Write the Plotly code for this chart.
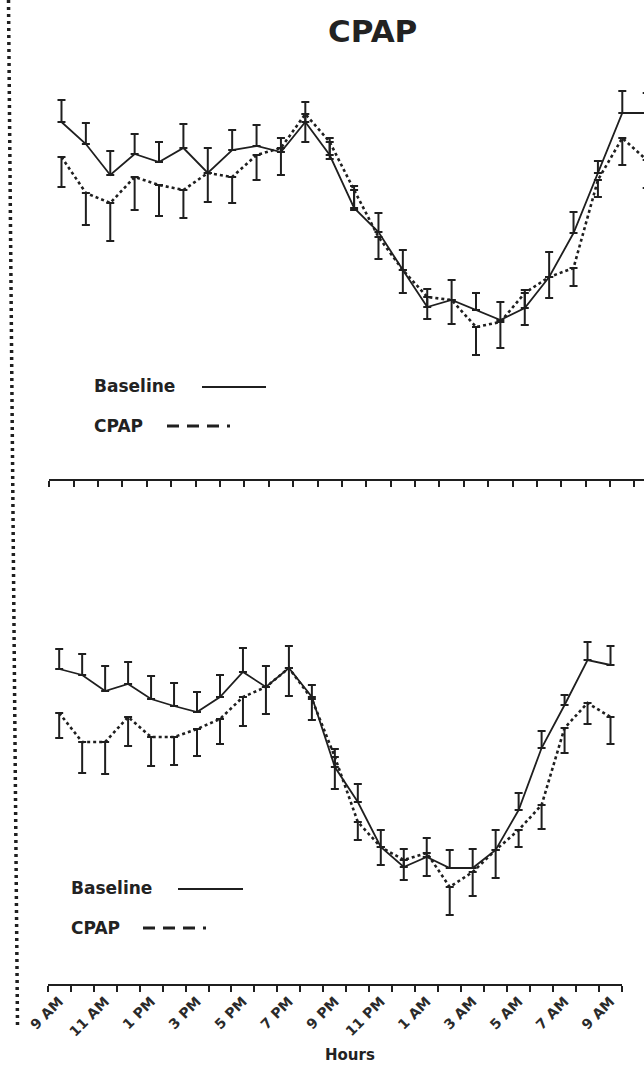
import plotly.graph_objects as go

W, H = 644, 1067

# 25 hourly categories, 9 AM to 9 AM next day
hours = ["9 AM", "10 AM", "11 AM", "12 PM", "1 PM", "2 PM", "3 PM", "4 PM", "5 PM",
         "6 PM", "7 PM", "8 PM", "9 PM", "10 PM", "11 PM", "12 AM", "1 AM", "2 AM",
         "3 AM", "4 AM", "5 AM", "6 AM", "7 AM", "8 AM", "9 AM"]
tick_labels = ["9 AM", "11 AM", "1 PM", "3 PM", "5 PM", "7 PM", "9 PM", "11 PM",
               "1 AM", "3 AM", "5 AM", "7 AM", "9 AM"]

# Top panel (values in arbitrary units, no y-axis shown)
base_top = [135.7, 133.5, 130.4, 132.5, 131.7, 133.1, 130.6, 132.9, 133.3, 132.7, 135.7,
            132.4, 127.1, 124.7, 120.9, 117.2, 117.9, 116.9, 115.9, 117.1, 120.2, 124.6,
            130.6, 136.6, 136.6]
base_top_err = [2.2, 2.1, 2.4, 2.0, 2.0, 2.4, 2.5, 2.0, 2.1, 1.4, 2.0, 1.7, 2.2, 1.9, 2.0,
                1.8, 2.0, 1.7, 1.8, 1.8, 2.5, 2.1, 1.2, 2.2, 2.0]
cpap_top = [132.2, 128.6, 127.6, 130.2, 129.4, 128.9, 130.6, 130.2, 132.4, 133.1, 136.5,
            133.7, 128.9, 124.2, 120.9, 118.2, 117.9, 115.2, 115.7, 118.6, 120.2, 121.1,
            129.9, 134.1, 131.9]
cpap_top_err = [3.0, 3.2, 3.8, 3.3, 3.1, 2.8, 2.9, 2.6, 2.5, 2.7, 2.8, 1.7, 2.0, 2.2, 2.3,
                2.2, 2.4, 2.8, 2.6, 3.2, 2.1, 1.8, 1.7, 2.7, 2.8]

# Bottom panel
base_bot = [81.5, 80.9, 79.3, 80.0, 78.5, 77.8, 77.2, 78.7, 81.2, 79.7, 81.6, 78.7, 71.7,
            68.2, 63.7, 61.7, 62.7, 61.6, 61.6, 63.4, 67.4, 73.6, 77.9, 82.4, 81.9]
base_bot_err = [2.0, 2.1, 2.5, 2.2, 2.3, 2.3, 2.0, 2.2, 2.4, 2.1, 2.2, 1.2, 1.8, 1.8, 1.7,
                1.8, 1.9, 1.8, 1.9, 2.0, 1.7, 1.7, 1.0, 1.8, 1.9]
cpap_bot = [77.1, 74.2, 74.2, 76.7, 74.7, 74.7, 75.5, 76.5, 78.7, 79.7, 81.6, 78.5, 72.7,
            66.2, 63.7, 62.4, 63.1, 59.7, 61.2, 63.4, 65.4, 67.9, 75.6, 78.1, 76.7]
cpap_bot_err = [2.5, 3.1, 3.2, 2.9, 2.9, 2.8, 2.7, 2.5, 2.9, 2.7, 2.8, 2.1, 3.2, 1.8, 1.8,
                2.0, 2.3, 2.8, 2.4, 2.8, 1.7, 2.4, 2.5, 2.1, 2.7]

INK = "#1f1f1f"
FONT = "DejaVu Sans"

x_idx = list(range(len(hours)))
zeros = [0] * len(hours)
tick_idx = x_idx[::2]
boundaries = [i - 0.5 for i in range(len(hours) + 1)]


def err(up, down):
    return dict(type="data", symmetric=False, array=up, arrayminus=down,
                color=INK, thickness=2, width=4)


fig = go.Figure()
for xa, ya, b, be, c, ce in [("x", "y", base_top, base_top_err, cpap_top, cpap_top_err),
                             ("x2", "y2", base_bot, base_bot_err, cpap_bot, cpap_bot_err)]:
    fig.add_trace(go.Scatter(x=x_idx, y=b, mode="lines", name="Baseline",
                             line=dict(color=INK, width=1.8),
                             error_y=err(be, zeros), xaxis=xa, yaxis=ya))
    fig.add_trace(go.Scatter(x=x_idx, y=c, mode="lines", name="CPAP",
                             line=dict(color=INK, width=2.6, dash="dot"),
                             error_y=err(zeros, ce), xaxis=xa, yaxis=ya))


def px_x(v):
    return v / W


def px_y(v):
    return 1 - v / H


minor_common = dict(tickmode="array", ticks="outside", ticklen=6, tickwidth=2,
                    tickcolor=INK, showgrid=False)

fig.update_layout(
    template="none",
    width=W, height=H, margin=dict(l=0, r=0, t=0, b=0, autoexpand=False),
    paper_bgcolor="white", plot_bgcolor="white", showlegend=False,
    font=dict(family=FONT, color=INK),
    xaxis=dict(domain=[px_x(49.3), 1.0], range=[-0.5, 23.89], anchor="y",
               automargin=False,
               showline=True, linecolor=INK, linewidth=2, ticks="",
               showticklabels=False, showgrid=False, zeroline=False,
               minor=dict(tickvals=boundaries, **minor_common)),
    yaxis=dict(domain=[px_y(479), px_y(60)], range=[100, 141.9], visible=False,
               automargin=False),
    xaxis2=dict(domain=[px_x(47.7), px_x(622)], range=[-0.5, 24.5], anchor="y2",
                automargin=False,
                showline=True, linecolor=INK, linewidth=2, ticks="",
                tickmode="array", tickvals=tick_idx, ticktext=tick_labels,
                tickangle=-45, ticklabelstandoff=2,
                tickfont=dict(family=FONT, size=14, color="#2a2a2a", weight="bold"),
                showgrid=False, zeroline=False,
                minor=dict(tickvals=boundaries, **minor_common)),
    yaxis2=dict(domain=[px_y(984), px_y(560)], range=[50, 92.4], visible=False,
                automargin=False),
)

annos = [
    dict(text="<b>CPAP</b>", x=px_x(373), y=px_y(31), size=31, xanchor="center"),
    dict(text="<b>Hours</b>", x=px_x(350), y=px_y(1055), size=15, xanchor="center"),
    dict(text="<b>Baseline</b>", x=px_x(92), y=px_y(386), size=17, xanchor="left"),
    dict(text="<b>CPAP</b>", x=px_x(92), y=px_y(426), size=17, xanchor="left"),
    dict(text="<b>Baseline</b>", x=px_x(69), y=px_y(888), size=17, xanchor="left"),
    dict(text="<b>CPAP</b>", x=px_x(69), y=px_y(928), size=17, xanchor="left"),
]
for a in annos:
    fig.add_annotation(text=a["text"], x=a["x"], y=a["y"], xref="paper", yref="paper",
                       xanchor=a["xanchor"], yanchor="middle", showarrow=False,
                       font=dict(family=FONT, size=a["size"], color="#222222"))

shapes = [
    dict(x0=202, x1=266, y=387, dash="solid", w=2),
    dict(x0=167, x1=230, y=426, dash="12px,8px", w=3),
    dict(x0=178, x1=243, y=889, dash="solid", w=2),
    dict(x0=143, x1=206, y=928, dash="12px,8px", w=3),
]
for s in shapes:
    fig.add_shape(type="line", xref="paper", yref="paper",
                  x0=px_x(s["x0"]), x1=px_x(s["x1"]), y0=px_y(s["y"]), y1=px_y(s["y"]),
                  line=dict(color=INK, width=s["w"], dash=s["dash"]))

# dotted frame line at the left edge
fig.add_shape(type="line", xref="paper", yref="paper",
              x0=px_x(8.5), y0=px_y(0), x1=px_x(17.5), y1=px_y(1025),
              line=dict(color=INK, width=3.5, dash="3px,4px"))

fig.write_html("out.html")
